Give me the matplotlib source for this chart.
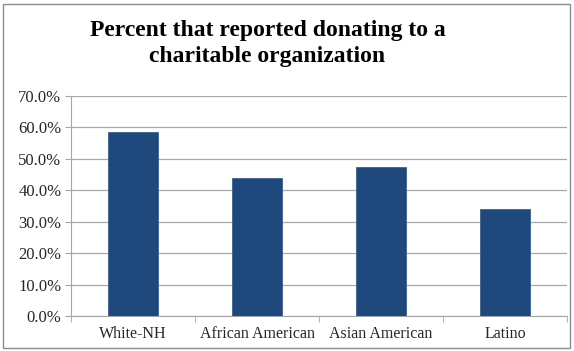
import numpy as np
import matplotlib.pyplot as plt
from matplotlib.patches import Rectangle
from matplotlib.ticker import PercentFormatter

groups = ['White-NH', 'African American', 'Asian American', 'Latino']
donated = [58.7, 43.9, 47.4, 33.9]
yticks = [0, 10, 20, 30, 40, 50, 60, 70]

plt.rcParams['font.family'] = ['Liberation Serif', 'DejaVu Serif']

fig = plt.figure(figsize=(5.74, 3.51), dpi=100)
ax = fig.add_axes([71 / 574, 35 / 351, 496 / 574, 220 / 351])

x = np.arange(len(groups))
ax.bar(x, donated, width=0.4, color='#1f497d', edgecolor='#3a6090', linewidth=0.6, zorder=3)

ax.set_xlim(-0.5, len(groups) - 0.5)
ax.set_ylim(0, 70)
ax.set_yticks(yticks)
ax.yaxis.set_major_formatter(PercentFormatter(decimals=1))
ax.set_xticks(x)
ax.set_xticklabels(groups)
ax.set_xticks(np.arange(len(groups) + 1) - 0.5, minor=True)

ax.grid(axis='y', color='#a8a8a8', linewidth=0.9, zorder=0)
for side in ['top', 'right']:
    ax.spines[side].set_visible(False)
ax.spines['left'].set_color('#a6a6a6')
ax.spines['bottom'].set_color('#a6a6a6')
ax.tick_params(axis='y', length=4, color='#a6a6a6', labelsize=12, pad=3, labelcolor='#262626')
ax.tick_params(axis='x', which='major', length=0, labelsize=11.5, pad=7, labelcolor='#262626')
ax.tick_params(axis='x', which='minor', length=4, color='#a6a6a6')

fig.text(0.466, 0.876, 'Percent that reported donating to a\ncharitable organization',
         ha='center', va='center', fontsize=17, fontweight='bold', linespacing=1.32)

# thin grey frame around the whole chart
fig.patches.append(Rectangle((3 / 574, 3 / 351), 567 / 574, 344 / 351,
                             transform=fig.transFigure, fill=False,
                             edgecolor='#8c8c8c', linewidth=1))

fig.savefig('out.png', dpi=100)
